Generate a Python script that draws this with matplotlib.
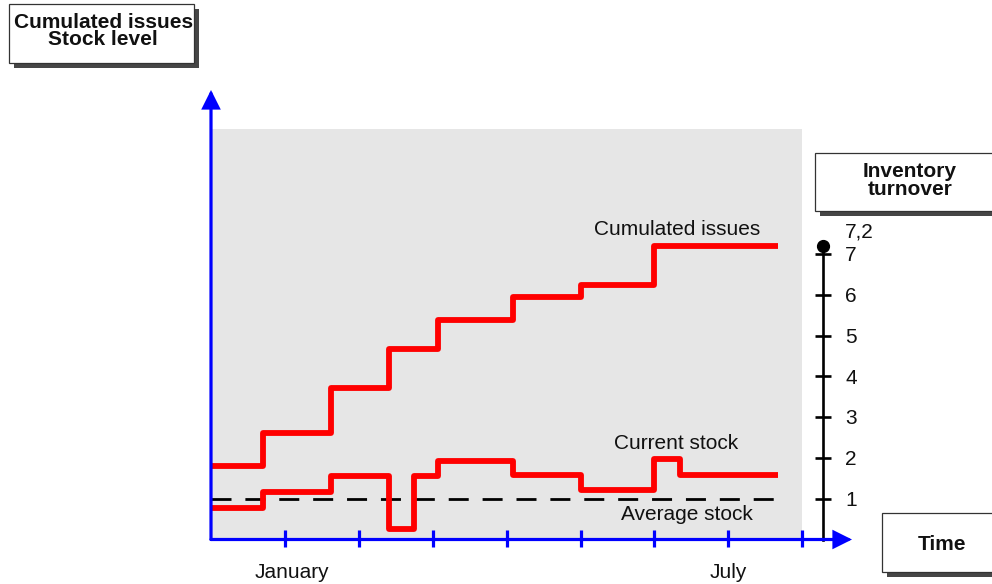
import matplotlib
matplotlib.use("Agg")
import matplotlib.pyplot as plt
from matplotlib.patches import Rectangle

plt.rcParams['font.family'] = ['Liberation Sans', 'DejaVu Sans']

# time axis in months (0 = start of chart)
month_ticks = [1, 2, 3, 4, 5, 6, 7, 8]
month_labels = ["January", "July"]
month_label_pos = [1.1, 7.0]

# cumulated issues (step curve)
issues_edges = [0, 0.70, 1.63, 2.41, 3.07, 4.09, 5.0, 6.0, 7.67]
issues_values = [1.81, 2.61, 3.71, 4.68, 5.37, 5.95, 6.24, 7.2]

# current stock (step curve)
stock_edges = [0, 0.70, 1.63, 2.41, 2.75, 3.07, 4.09, 5.0, 6.0, 6.34, 7.67]
stock_values = [0.78, 1.16, 1.56, 0.26, 1.56, 1.93, 1.58, 1.21, 1.97, 1.58]

average_stock = 1.0
turnover_ticks = [1, 2, 3, 4, 5, 6, 7]
turnover_value = 7.2
turnover_label = "7,2"

W, H = 992, 584
fig = plt.figure(figsize=(W / 100, H / 100), dpi=100)
ax = fig.add_axes([0, 0, 1, 1])
# pixel layout of the drawing: origin at (211, 539.5), 73.9 px per month, 40.8 px per unit
X0, XS, Y0, YS = 211, 73.9, 539.5, 40.8
ax.set_xlim(-X0 / XS, (W - X0) / XS)
ax.set_ylim(-(H - Y0) / YS, Y0 / YS)
ax.axis('off')

END = 8.0
TOP = 10.07
ax.add_patch(Rectangle((0, 0), END, TOP, fc='#e6e6e6', ec='none', zorder=0))

# average stock
ax.plot([0, issues_edges[-1]], [average_stock, average_stock], color='black',
        lw=2.0, dashes=(7.2, 5.0), zorder=2)

# red step lines
for edges, vals in [(issues_edges, issues_values), (stock_edges, stock_values)]:
    ax.stairs(vals, edges, baseline=None, color='#ff0000', lw=4.2,
              joinstyle='round', capstyle='butt', zorder=3)

# blue axes with arrows
blue = '#0000ff'
arr = dict(arrowstyle='-|>', color=blue, lw=2.3, mutation_scale=26,
           shrinkA=0, shrinkB=0, joinstyle='miter')
ax.annotate('', xy=(0, (Y0 - 90) / YS), xytext=(0, 0), arrowprops=arr, zorder=5)
ax.annotate('', xy=((852 - X0) / XS, 0), xytext=(0, 0), arrowprops=arr, zorder=5)
ax.vlines(month_ticks, -0.18, 0.23, color=blue, lw=2.3, zorder=5)

for lab, pos in zip(month_labels, month_label_pos):
    ax.text(pos, -0.94, lab, ha='center', va='baseline', fontsize=15, color='#111111')

# inventory turnover axis
rx = (823 - X0) / XS
ax.plot([rx, rx], [0, turnover_value], color='black', lw=1.9, zorder=4)
ax.hlines(turnover_ticks, rx - 0.11, rx + 0.11, color='black', lw=1.9, zorder=4)
ax.plot([rx], [turnover_value], 'o', color='black', ms=8.5, zorder=5)
for t in turnover_ticks:
    ax.text(rx + 0.30, t - 0.18, str(t), ha='left', va='baseline', fontsize=15, color='#111111')
ax.text(rx + 0.30, 7.41, turnover_label, ha='left', va='baseline', fontsize=15, color='#111111')

# curve labels
ax.text(6.31, 7.46, "Cumulated issues", ha='center', va='baseline', fontsize=15, color='#111111')
ax.text(6.30, 2.21, "Current stock", ha='center', va='baseline', fontsize=15, color='#111111')
ax.text(6.44, 0.48, "Average stock", ha='center', va='baseline', fontsize=15, color='#111111')


def box(x0, y0, x1, y1):
    shadow = Rectangle(((x0 + 5) / W, 1 - (y1 + 5) / H), (x1 - x0) / W, (y1 - y0) / H,
                       transform=fig.transFigure, fc='#464646', ec='none')
    face = Rectangle((x0 / W, 1 - y1 / H), (x1 - x0) / W, (y1 - y0) / H,
                     transform=fig.transFigure, fc='white', ec='#333333', lw=0.9)
    fig.add_artist(shadow)
    fig.add_artist(face)


def btext(x, y, s, size):
    fig.text(x / W, 1 - y / H, s, ha='center', va='baseline', fontsize=size,
             fontweight='bold', color='#111111')


box(9, 4, 194, 63)
btext(104, 28, "Cumulated issues", 15)
btext(103, 45, "Stock level", 15)

box(815, 153, 1000, 211)
btext(910, 176.5, "Inventory", 15)
btext(910, 194.5, "turnover", 15)

box(882, 513, 1000, 572)
btext(942, 550, "Time", 15)

fig.savefig('out.png', dpi=100)
